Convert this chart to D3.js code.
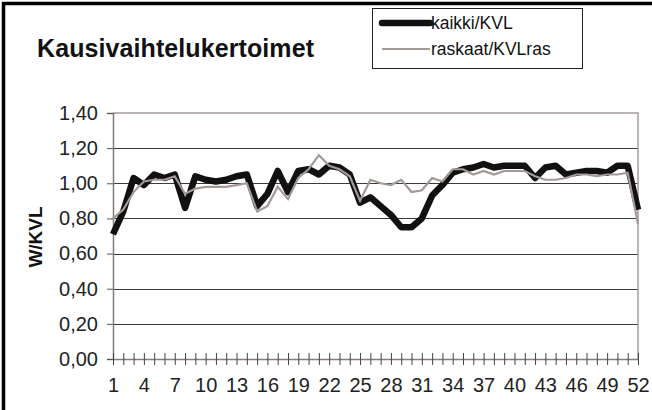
<!DOCTYPE html>
<html>
<head>
<meta charset="utf-8">
<script src="https://cdn.jsdelivr.net/npm/d3@7"></script>
<style>
  body { margin: 0; background: #fff; }
  svg { display: block; font-family: "Liberation Sans", Arial, sans-serif; }
</style>
</head>
<body>
<svg id="chart" width="652" height="410"></svg>
<script>
// Week numbers on the x axis
const weeks = d3.range(1, 53);
// Tick labels shown under the axis
const weekLabels = [1, 4, 7, 10, 13, 16, 19, 22, 25, 28, 31, 34, 37, 40, 43, 46, 49, 52];
const yTicks = [0, 0.2, 0.4, 0.6, 0.8, 1.0, 1.2, 1.4];

// kaikki/KVL
const kaikki = [0.71, 0.84, 1.03, 0.99, 1.05, 1.03, 1.05, 0.86, 1.04, 1.02,
                1.01, 1.02, 1.04, 1.05, 0.87, 0.94, 1.07, 0.95, 1.07, 1.08,
                1.05, 1.10, 1.09, 1.05, 0.89, 0.92, 0.87, 0.82, 0.75, 0.75,
                0.80, 0.93, 0.99, 1.06, 1.08, 1.09, 1.11, 1.09, 1.10, 1.10,
                1.10, 1.03, 1.09, 1.10, 1.05, 1.06, 1.07, 1.07, 1.06, 1.10,
                1.10, 0.85];
// raskaat/KVLras
const raskaat = [0.80, 0.85, 0.95, 1.01, 1.02, 1.02, 1.04, 0.94, 0.97, 0.98,
                 0.98, 0.98, 0.99, 1.00, 0.84, 0.87, 0.98, 0.91, 1.03, 1.08,
                 1.16, 1.10, 1.08, 1.04, 0.90, 1.02, 1.00, 0.99, 1.02, 0.95,
                 0.96, 1.03, 1.01, 1.08, 1.08, 1.05, 1.07, 1.05, 1.07, 1.07,
                 1.07, 1.04, 1.02, 1.02, 1.03, 1.05, 1.05, 1.04, 1.05, 1.05,
                 1.06, 0.77];

const svg = d3.select('#chart');

// Plot area
const plotLeft = 113, plotRight = 638, plotTop = 113, plotBottom = 359;

const x = d3.scalePoint().domain(weeks).range([plotLeft, plotRight]);
const y = d3.scaleLinear().domain([0, 1.4]).range([plotBottom, plotTop]);

const fmt = v => d3.format('.2f')(v).replace('.', ',');

// Outer chart frame
svg.append('rect')
    .attr('x', 3.5).attr('y', 3.5)
    .attr('width', 700).attr('height', 500)
    .attr('fill', 'none')
    .attr('stroke', '#000')
    .attr('stroke-width', 3.5);

// Gridlines
svg.append('g')
    .selectAll('line')
    .data(yTicks.filter(d => d > 0 && d < 1.4))
    .join('line')
    .attr('x1', plotLeft).attr('x2', plotRight)
    .attr('y1', d => Math.round(y(d)) + 0.5)
    .attr('y2', d => Math.round(y(d)) + 0.5)
    .attr('stroke', '#3a3a3a')
    .attr('stroke-width', 1);

// Plot border top and right
svg.append('path')
    .attr('d', `M${plotLeft},${plotTop}H${plotRight}V${plotBottom}`)
    .attr('fill', 'none')
    .attr('stroke', '#a39b98')
    .attr('stroke-width', 1.5);

// Y axis
const yAxis = d3.axisLeft(y).tickValues(yTicks).tickFormat(fmt).tickSize(6).tickPadding(9);
const gy = svg.append('g').attr('transform', `translate(${plotLeft},0)`).call(yAxis);
gy.select('.domain').attr('stroke', '#857c7a').attr('stroke-width', 1.5);
gy.selectAll('.tick line').attr('stroke', '#555');
gy.selectAll('.tick text').attr('font-size', 20).attr('fill', '#222')
    .attr('font-family', '"Liberation Sans", Arial, sans-serif');

// X axis: cross ticks at every week
const xAxis = d3.axisBottom(x).tickSize(6).tickSizeOuter(0)
    .tickFormat(d => weekLabels.includes(d) ? d : '').tickPadding(13);
const gx = svg.append('g').attr('transform', `translate(0,${plotBottom})`).call(xAxis);
gx.select('.domain').attr('stroke', '#857c7a').attr('stroke-width', 1.5);
gx.selectAll('.tick line').attr('y1', -6).attr('stroke', '#444');
gx.selectAll('.tick text').attr('font-size', 20).attr('fill', '#222')
    .attr('font-family', '"Liberation Sans", Arial, sans-serif');

// Lines
const line = d3.line().x((d, i) => x(weeks[i])).y(d => y(d));

svg.append('path')
    .datum(kaikki)
    .attr('d', line)
    .attr('fill', 'none')
    .attr('stroke', '#111')
    .attr('stroke-width', 6.5)
    .attr('stroke-linejoin', 'round');

svg.append('path')
    .datum(raskaat)
    .attr('d', line)
    .attr('fill', 'none')
    .attr('stroke', '#a39a97')
    .attr('stroke-width', 2.2);

// Title
svg.append('text')
    .attr('x', 37).attr('y', 57)
    .attr('font-size', 25)
    .attr('font-weight', 'bold')
    .attr('fill', '#111')
    .attr('textLength', 277)
    .text('Kausivaihtelukertoimet');

// Y axis title
svg.append('text')
    .attr('transform', 'translate(42,237) rotate(-90)')
    .attr('text-anchor', 'middle')
    .attr('font-size', 19)
    .attr('font-weight', 'bold')
    .attr('fill', '#111')
    .text('W/KVL');

// Legend
const legend = svg.append('g');
legend.append('rect')
    .attr('x', 372.5).attr('y', 8.5)
    .attr('width', 210).attr('height', 60)
    .attr('fill', '#fff')
    .attr('stroke', '#222')
    .attr('stroke-width', 1);

const legendItems = [
    { label: 'kaikki/KVL', color: '#111', width: 6.5, cap: 'round' },
    { label: 'raskaat/KVLras', color: '#a39a97', width: 2.2, cap: 'butt' }
];
legend.selectAll('g.item')
    .data(legendItems)
    .join('g')
    .attr('class', 'item')
    .attr('transform', (d, i) => `translate(0,${23 + i * 26})`)
    .each(function(d) {
        const g = d3.select(this);
        g.append('line')
            .attr('x1', 382).attr('x2', 430)
            .attr('stroke', d.color)
            .attr('stroke-width', d.width)
            .attr('stroke-linecap', d.cap);
        g.append('text')
            .attr('x', 431).attr('y', 6)
            .attr('font-size', 17.5)
            .attr('fill', '#111')
            .text(d.label);
    });
</script>
</body>
</html>
